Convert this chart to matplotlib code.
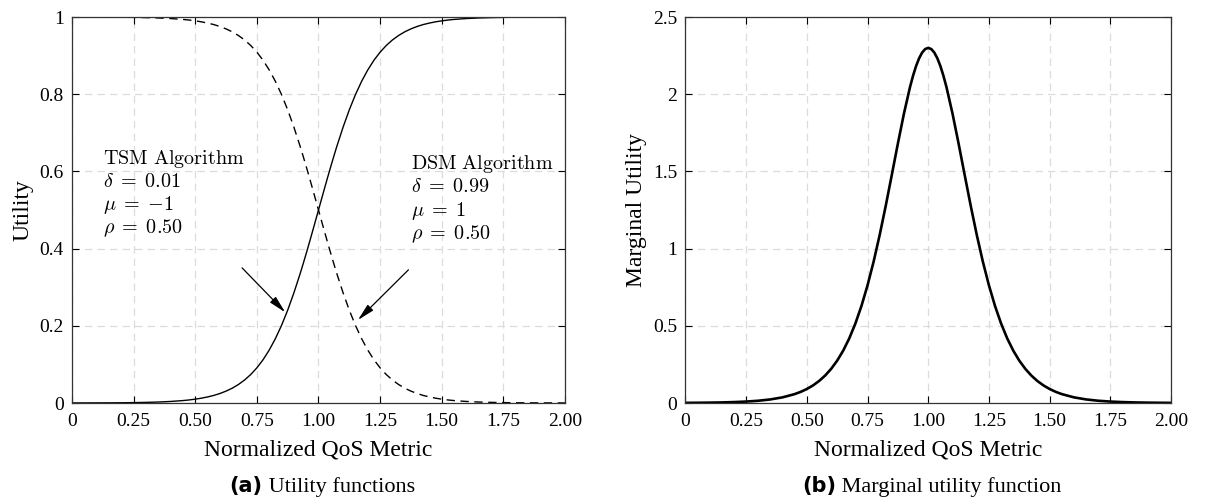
import matplotlib
matplotlib.use("Agg")
import matplotlib.pyplot as plt

plt.rcParams["font.family"] = ["Liberation Serif", "DejaVu Serif"]
plt.rcParams["mathtext.fontset"] = "cm"

# ======================
# Data
# ======================
qos = [0.0, 0.05, 0.1, 0.15, 0.2, 0.25, 0.3, 0.35, 0.4, 0.45, 0.475, 0.5,
       0.525, 0.55, 0.575, 0.6, 0.625, 0.65, 0.675, 0.7, 0.725, 0.75, 0.775,
       0.8, 0.825, 0.85, 0.875, 0.9, 0.925, 0.9375, 0.95, 0.9625, 0.975,
       0.9875, 1.0, 1.0125, 1.025, 1.0375, 1.05, 1.0625, 1.075, 1.1, 1.125,
       1.15, 1.175, 1.2, 1.225, 1.25, 1.275, 1.3, 1.325, 1.35, 1.375, 1.4,
       1.425, 1.45, 1.475, 1.5, 1.525, 1.55, 1.6, 1.65, 1.7, 1.75, 1.8, 1.85,
       1.9, 1.95, 2.0]

# increasing utility (TSM, solid)
utility_tsm = [0.0001, 0.0002, 0.0003, 0.0004, 0.0006, 0.0010, 0.0016, 0.0025,
               0.0040, 0.0063, 0.0079, 0.0100, 0.0125, 0.0157, 0.0196, 0.0246,
               0.0308, 0.0384, 0.0479, 0.0595, 0.0738, 0.0911, 0.1120, 0.1371,
               0.1666, 0.2010, 0.2405, 0.2850, 0.3340, 0.3601, 0.3870, 0.4146,
               0.4428, 0.4713, 0.5000, 0.5287, 0.5572, 0.5854, 0.6130, 0.6399,
               0.6660, 0.7150, 0.7595, 0.7990, 0.8334, 0.8629, 0.8880, 0.9089,
               0.9262, 0.9405, 0.9521, 0.9616, 0.9692, 0.9754, 0.9804, 0.9843,
               0.9875, 0.9900, 0.9921, 0.9937, 0.9960, 0.9975, 0.9984, 0.9990,
               0.9994, 0.9996, 0.9997, 0.9998, 0.9999]

# decreasing utility (DSM, dashed)
utility_dsm = [0.9999, 0.9998, 0.9997, 0.9996, 0.9994, 0.9990, 0.9984, 0.9975,
               0.9960, 0.9937, 0.9921, 0.9900, 0.9875, 0.9843, 0.9804, 0.9754,
               0.9692, 0.9616, 0.9521, 0.9405, 0.9262, 0.9089, 0.8880, 0.8629,
               0.8334, 0.7990, 0.7595, 0.7150, 0.6660, 0.6399, 0.6130, 0.5854,
               0.5572, 0.5287, 0.5000, 0.4713, 0.4428, 0.4146, 0.3870, 0.3601,
               0.3340, 0.2850, 0.2405, 0.2010, 0.1666, 0.1371, 0.1120, 0.0911,
               0.0738, 0.0595, 0.0479, 0.0384, 0.0308, 0.0246, 0.0196, 0.0157,
               0.0125, 0.0100, 0.0079, 0.0063, 0.0040, 0.0025, 0.0016, 0.0010,
               0.0006, 0.0004, 0.0003, 0.0002, 0.0001]

marginal = [0.0009, 0.0015, 0.0023, 0.0037, 0.0059, 0.0093, 0.0146, 0.0232,
            0.0366, 0.0577, 0.0723, 0.0907, 0.1135, 0.1419, 0.1772, 0.2208,
            0.2744, 0.3399, 0.4194, 0.5151, 0.6287, 0.7620, 0.9153, 1.0881,
            1.2773, 1.4776, 1.6804, 1.8746, 2.0466, 2.1199, 2.1825, 2.2329,
            2.2699, 2.2924, 2.3000, 2.2924, 2.2699, 2.2329, 2.1825, 2.1199,
            2.0466, 1.8746, 1.6804, 1.4776, 1.2773, 1.0881, 0.9153, 0.7620,
            0.6287, 0.5151, 0.4194, 0.3399, 0.2744, 0.2208, 0.1772, 0.1419,
            0.1135, 0.0907, 0.0723, 0.0577, 0.0366, 0.0232, 0.0146, 0.0093,
            0.0059, 0.0037, 0.0023, 0.0015, 0.0009]

x_ticks = [0, 0.25, 0.5, 0.75, 1.0, 1.25, 1.5, 1.75, 2.0]
x_tick_labels = ["0", "0.25", "0.50", "0.75", "1.00", "1.25", "1.50", "1.75", "2.00"]
left_y_ticks = [0, 0.2, 0.4, 0.6, 0.8, 1]
left_y_labels = ["0", "0.2", "0.4", "0.6", "0.8", "1"]
right_y_ticks = [0, 0.5, 1, 1.5, 2, 2.5]
right_y_labels = ["0", "0.5", "1", "1.5", "2", "2.5"]

tsm_lines = [r"$\mathrm{TSM\ Algorithm}$", r"$\delta\; =\; 0.01$",
             r"$\mu\; =\; {-1}$", r"$\rho\; =\; 0.50$"]
dsm_lines = [r"$\mathrm{DSM\ Algorithm}$", r"$\delta\; =\; 0.99$",
             r"$\mu\; =\; 1$", r"$\rho\; =\; 0.50$"]

captions = [("(a)", " Utility functions"), ("(b)", " Marginal utility function")]

# ======================
# Figure
# ======================
fig = plt.figure(figsize=(12.11, 5), dpi=100)
ax1 = fig.add_axes([0.0595, 0.194, 0.407, 0.772])
ax2 = fig.add_axes([0.566, 0.194, 0.401, 0.772])


def style_axis(ax, yticks, ylabels, ylim, ylabel):
    ax.set_xlim(0, 2)
    ax.set_ylim(*ylim)
    ax.set_xticks(x_ticks)
    ax.set_xticklabels(x_tick_labels)
    ax.set_yticks(yticks)
    ax.set_yticklabels(ylabels)
    ax.tick_params(direction="in", top=True, right=True, labelsize=14,
                   length=5, width=0.8)
    ax.tick_params(axis="x", pad=7)
    ax.tick_params(axis="y", pad=6)
    ax.grid(True, color="#dcdcdc", linestyle=(0, (6, 4)), linewidth=0.9)
    ax.set_axisbelow(True)
    for s in ax.spines.values():
        s.set_linewidth(0.9)
        s.set_color("#333333")
    ax.set_xlabel("Normalized QoS Metric", fontsize=17, labelpad=7)
    ax.set_ylabel(ylabel, fontsize=17, labelpad=4)


# left panel
ax1.plot(qos, utility_tsm, color="black", linewidth=1.0)
ax1.plot(qos, utility_dsm, color="black", linewidth=1.0, linestyle=(0, (6, 4)))
style_axis(ax1, left_y_ticks, left_y_labels, (0, 1), "Utility")

for i, t in enumerate(tsm_lines):
    ax1.text(0.125, 0.632 - i * 0.06, t, fontsize=14.5, va="center", ha="left")
for i, t in enumerate(dsm_lines):
    ax1.text(1.375, 0.618 - i * 0.06, t, fontsize=14.5, va="center", ha="left")

arrow_props = dict(arrowstyle="-|>,head_length=0.65,head_width=0.15",
                   color="black", lw=0.9, mutation_scale=16,
                   shrinkA=0, shrinkB=0)
ax1.annotate("", xy=(0.865, 0.235), xytext=(0.69, 0.35), arrowprops=arrow_props)
ax1.annotate("", xy=(1.16, 0.215), xytext=(1.365, 0.345), arrowprops=arrow_props)

# right panel
ax2.plot(qos, marginal, color="black", linewidth=1.9)
style_axis(ax2, right_y_ticks, right_y_labels, (0, 2.5), "Marginal Utility")

# captions: bold tag followed by regular text, centred under each panel
fig.canvas.draw()
renderer = fig.canvas.get_renderer()
for ax, (tag, rest) in zip([ax1, ax2], captions):
    pos = ax.get_position()
    centre = (pos.x0 + pos.x1) / 2 + 0.003
    t1 = fig.text(0, 0.016, tag, fontsize=15, fontweight="bold",
                  family=["DejaVu Sans"], ha="left", va="baseline")
    t2 = fig.text(0, 0.016, rest, fontsize=16, ha="left", va="baseline")
    w1 = t1.get_window_extent(renderer).width / fig.bbox.width
    w2 = t2.get_window_extent(renderer).width / fig.bbox.width
    start = centre - (w1 + w2) / 2
    t1.set_x(start)
    t2.set_x(start + w1)

fig.savefig("out.png", dpi=100)
